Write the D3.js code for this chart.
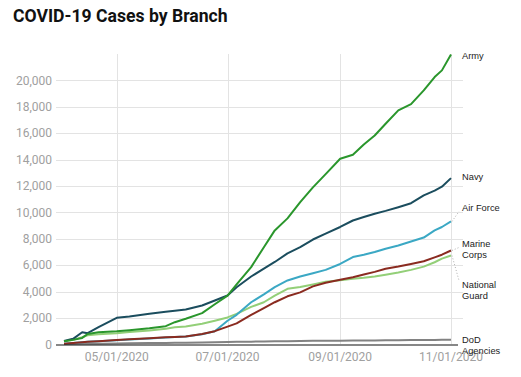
<!DOCTYPE html>
<html>
<head>
<meta charset="utf-8">
<script src="https://cdn.jsdelivr.net/npm/d3@7"></script>
<style>
  body { margin: 0; background: #fff; }
  .container { width: 521px; height: 377px; }
</style>
</head>
<body>
<div class="container"></div>
<script>
// dates of the readings (2020)
var dates = ["04/02","04/07","04/12","04/15","04/21","05/01","05/08","05/19","05/28","06/02","06/08",
  "06/17","06/24","07/01","07/06","07/14","07/21","07/27","08/03","08/10","08/17","08/24",
  "09/01","09/08","09/14","09/20","09/26","10/03","10/10","10/17","10/23","10/27","11/01"];

var army = [250,350,500,800,930,1000,1080,1230,1390,1690,1950,2380,3050,3700,4550,5860,7370,8640,
  9550,10780,11900,12900,14070,14370,15150,15830,16720,17730,18200,19240,20250,20760,21970];
var navy = [270,430,930,860,1310,2020,2120,2320,2480,2560,2650,2950,3330,3710,4340,5150,5750,6250,
  6900,7370,7950,8400,8900,9390,9650,9900,10120,10400,10700,11290,11650,11950,12600];
var airForce = [50,120,170,200,250,330,380,460,530,560,600,780,1010,1800,2250,3200,3800,4350,
  4850,5150,5400,5650,6100,6620,6800,7000,7250,7500,7800,8100,8640,8900,9320];
var marineCorps = [50,120,170,200,250,350,400,480,540,560,600,790,1010,1350,1600,2250,2750,3200,
  3650,3950,4400,4680,4900,5100,5300,5500,5730,5900,6100,6300,6600,6800,7120];
var nationalGuard = [250,350,550,700,780,860,950,1060,1200,1300,1370,1570,1800,2050,2320,2850,3200,3700,
  4220,4350,4550,4750,4870,4980,5050,5150,5280,5450,5650,5900,6230,6500,6740];
var dodAgencies = [30,40,50,55,60,80,90,105,120,130,140,155,170,190,200,215,230,240,
  255,265,275,283,290,297,303,310,318,325,332,340,348,352,360];

var yTicks = [0,2000,4000,6000,8000,10000,12000,14000,16000,18000,20000];
var xTicks = ["05/01","07/01","09/01","11/01"];

var series = [
  {name: ["DoD","Agencies"], values: dodAgencies, color: "#828282", dy: 0, leader: false},
  {name: ["National","Guard"], values: nationalGuard, color: "#93cf78", dy: 29, leader: true},
  {name: ["Air Force"], values: airForce, color: "#3ba8c4", dy: -14, leader: true},
  {name: ["Marine","Corps"], values: marineCorps, color: "#8a2b20", dy: -7, leader: true},
  {name: ["Navy"], values: navy, color: "#1b4d5e", dy: -1, leader: false},
  {name: ["Army"], values: army, color: "#2a962c", dy: 1, leader: false}
];

var width = 521, height = 377;
var parse = d3.timeParse("%m/%d/%Y");
var when = dates.map(d => parse(d + "/2020"));

var svg = d3.select(".container").append("svg")
    .attr("width", width)
    .attr("height", height);

var x = d3.scaleTime()
    .domain([parse("05/01/2020"), parse("11/01/2020")])
    .range([116.7, 451]);

var y = d3.scaleLinear()
    .domain([0, 22000])
    .range([344.5, 54]);

// title
svg.append("text")
    .attr("x", 13)
    .attr("y", 22)
    .style("font", "bold 17.6px Roboto, sans-serif")
    .attr("fill", "#111")
    .text("COVID-19 Cases by Branch");

// horizontal grid + y labels
var gy = svg.append("g");
gy.selectAll("line")
    .data(yTicks.slice(1))
    .join("line")
      .attr("x1", 56).attr("x2", 463)
      .attr("y1", d => Math.round(y(d)) + 0.5)
      .attr("y2", d => Math.round(y(d)) + 0.5)
      .attr("stroke", "#e3e3e3");
gy.selectAll("text")
    .data(yTicks)
    .join("text")
      .attr("x", 52)
      .attr("y", d => y(d))
      .attr("dy", "0.35em")
      .attr("text-anchor", "end")
      .attr("fill", "#a0a0a0")
      .style("font", "12px Roboto, sans-serif")
      .text(d => d3.format(",")(d));

// vertical grid + x labels
var gx = svg.append("g");
gx.selectAll("line")
    .data(xTicks)
    .join("line")
      .attr("x1", d => Math.round(x(parse(d + "/2020"))) + 0.5)
      .attr("x2", d => Math.round(x(parse(d + "/2020"))) + 0.5)
      .attr("y1", 54).attr("y2", 344)
      .attr("stroke", "#e3e3e3");
gx.selectAll("text")
    .data(xTicks)
    .join("text")
      .attr("x", d => x(parse(d + "/2020")))
      .attr("y", 361)
      .attr("text-anchor", "middle")
      .attr("fill", "#a0a0a0")
      .style("font", "12px Roboto, sans-serif")
      .text(d => d + "/2020");

// lines
var line = d3.line()
    .x((d, i) => x(when[i]))
    .y(d => y(d));

svg.append("g")
  .selectAll("path")
  .data(series)
  .join("path")
    .attr("d", d => line(d.values))
    .attr("fill", "none")
    .attr("stroke", d => d.color)
    .attr("stroke-width", 2)
    .attr("stroke-linejoin", "round");

// baseline
svg.append("line")
    .attr("x1", 56).attr("x2", 458)
    .attr("y1", 345).attr("y2", 345)
    .attr("stroke", "#111")
    .attr("stroke-width", 1.2);

// end labels
var lastX = x(when[when.length - 1]);
var lab = svg.append("g");
series.forEach(function(s) {
  var endY = y(s.values[s.values.length - 1]);
  var ty = endY + s.dy;
  if (s.leader) {
    lab.append("line")
      .attr("x1", lastX + 1).attr("y1", endY)
      .attr("x2", 459).attr("y2", ty + (s.dy > 0 ? -4 : 4))
      .attr("stroke", "#999")
      .attr("stroke-width", 0.8)
      .attr("stroke-dasharray", "1,2");
  }
  var t = lab.append("text")
      .attr("x", 462)
      .attr("y", ty)
      .attr("dy", "0.35em")
      .attr("fill", "#222")
      .style("font", "9.3px 'Liberation Sans', Arial, sans-serif");
  s.name.forEach(function(n, i) {
    t.append("tspan").attr("x", 462).attr("dy", i == 0 ? "0.35em" : "1.2em").text(n);
  });
});
</script>
</body>
</html>
